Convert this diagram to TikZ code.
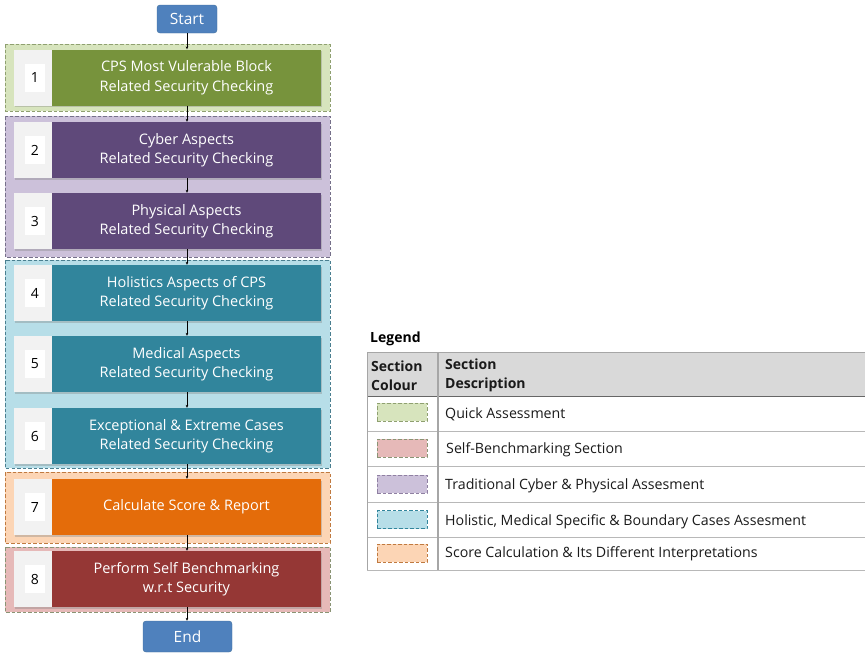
\documentclass[tikz,border=0pt]{standalone}
\usepackage{fontspec}
\setmainfont{Open Sans}
\usetikzlibrary{arrows.meta,shadows}

\definecolor{termfill}{HTML}{4F81BD}
\definecolor{termline}{HTML}{41719C}
\definecolor{greenstep}{HTML}{77933C}
\definecolor{greengroup}{HTML}{D7E4BD}
\definecolor{greenedge}{HTML}{8FA070}
\definecolor{purplestep}{HTML}{5F497A}
\definecolor{purplegroup}{HTML}{CCC1DA}
\definecolor{purpleedge}{HTML}{76708A}
\definecolor{tealstep}{HTML}{31859C}
\definecolor{tealgroup}{HTML}{B7DEE8}
\definecolor{tealedge}{HTML}{4A7F90}
\definecolor{orangestep}{HTML}{E46C0A}
\definecolor{orangegroup}{HTML}{FCD5B5}
\definecolor{orangeedge}{HTML}{C07A40}
\definecolor{redstep}{HTML}{953735}
\definecolor{redgroup}{HTML}{E6B9B8}
\definecolor{rededge}{HTML}{8A9474}
\definecolor{numgray}{HTML}{F2F2F2}
\definecolor{headgray}{HTML}{D9D9D9}
\definecolor{rulegray}{HTML}{A6A6A6}
\definecolor{inkdark}{HTML}{1A1A1A}

\tikzset{
  terminal/.style={draw=termline, fill=termfill, rounded corners=3pt, text=white,
    font=\fontsize{15.5}{18}\selectfont, inner sep=0pt},
  numcell/.style={fill=numgray, minimum width=38pt, minimum height=56pt, inner sep=0pt,
    drop shadow={shadow xshift=0.8pt, shadow yshift=-1.5pt, opacity=0.35}},
  numlabel/.style={fill=white, minimum width=20pt, minimum height=28pt, inner sep=0pt,
    text=black, font=\fontsize{14}{16}\selectfont},
  stepbody/.style={minimum width=269pt, minimum height=56pt, inner sep=0pt, text=white,
    align=center, font=\fontsize{14.5}{19.5}\selectfont,
    drop shadow={shadow xshift=0.8pt, shadow yshift=-1.5pt, opacity=0.35}},
  groupbox/.style={line width=0.6pt, dash pattern=on 3.5pt off 2pt},
  flow/.style={-{Stealth[length=3pt,width=2.6pt]}, line width=0.6pt, black},
  swatch/.style={groupbox, minimum width=50pt, minimum height=18pt, inner sep=0pt},
  legtext/.style={anchor=west, inner sep=0pt, text=inkdark, font=\fontsize{14.2}{16}\selectfont},
  leghead/.style={anchor=west, inner sep=0pt, text=inkdark, align=left,
    font=\fontsize{14}{19}\selectfont\bfseries},
  tablerule/.style={draw=rulegray, line width=0.8pt},
}

\begin{document}
\begin{tikzpicture}[x=1pt,y=-1pt]
\useasboundingbox (0,0) rectangle (865,654);

% section backgrounds
\draw[groupbox, fill=greengroup, draw=greenedge] (5,44) rectangle (330,111);
\draw[groupbox, fill=purplegroup, draw=purpleedge] (5,116) rectangle (330,257);
\draw[groupbox, fill=tealgroup, draw=tealedge] (5,260) rectangle (330,468);
\draw[groupbox, fill=orangegroup, draw=orangeedge] (5,472) rectangle (330,543);
\draw[groupbox, fill=redgroup, draw=rededge] (5,547) rectangle (330,612);

% terminals
\node[terminal, minimum width=60pt, minimum height=28pt] (start) at (187,19) {Start};
\node[terminal, minimum width=89pt, minimum height=31pt] (end) at (187.5,636.5) {End};

% numbered steps
\foreach \k/\y/\c/\t in {
  1/77.5/greenstep/{CPS Most Vulerable Block\\Related Security Checking},
  2/150/purplestep/{Cyber Aspects\\Related Security Checking},
  3/221/purplestep/{Physical Aspects\\Related Security Checking},
  4/293/tealstep/{Holistics Aspects of CPS\\Related Security Checking},
  5/364/tealstep/{Medical Aspects\\Related Security Checking},
  6/436/tealstep/{Exceptional \& Extreme Cases\\Related Security Checking},
  7/507/orangestep/{Calculate Score \& Report},
  8/579/redstep/{Perform Self Benchmarking\\w.r.t Security}}{
  \node[numcell] (n\k) at (33,\y) {};
  \node[numlabel] (l\k) at ([xshift=2pt]n\k.center) {\k};
  \node[stepbody, fill=\c] (b\k) at (186.5,\y) {\t};
}

% flow connectors
\draw[flow] (start) -- (start |- b1.north);
\foreach \a/\b in {1/2,2/3,3/4,4/5,5/6,6/7,7/8}{
  \draw[flow] (start |- b\a.south) -- (start |- b\b.north);
}
\draw[flow] (start |- b8.south) -- (start |- end.north);

% legend
\node[anchor=base west, inner sep=0pt, text=black, font=\fontsize{14}{16}\selectfont\bfseries] (legend) at (370,342) {Legend};

\fill[headgray] (367,352) rectangle (864.6,396);
\draw[tablerule] (367,352) -- (864.6,352);
\draw[draw=gray!80!black, line width=0.9pt] (367,396) -- (864.6,396);
\foreach \yy in {431,466,502,537,570}{
  \draw[tablerule, draw=rulegray!80] (367,\yy) -- (864.6,\yy);
}
\draw[tablerule] (367,352) -- (367,570);
\draw[draw=rulegray, line width=1.6pt] (438,352) -- (438,570);

\node[leghead] (hcol) at (371,375.5) {Section\\Colour};
\node[leghead] (hdesc) at (445,375.5) {Section\\Description};

\node[swatch, fill=greengroup, draw=greenedge] (s1) at (402,412) {};
\node[swatch, fill=redgroup, draw=rededge] (s2) at (402,448) {};
\node[swatch, fill=purplegroup, draw=purplestep!70] (s3) at (402,484) {};
\node[swatch, fill=tealgroup, draw=tealstep] (s4) at (402,519.5) {};
\node[swatch, fill=orangegroup, draw=orangeedge] (s5) at (402,553) {};

\node[legtext] (d1) at (445,414.5) {Quick Assessment};
\node[legtext] (d2) at (446,449.5) {Self-Benchmarking Section};
\node[legtext] (d3) at (445,486) {Traditional Cyber \& Physical Assesment};
\node[legtext] (d4) at (445,521.5) {Holistic, Medical Specific \& Boundary Cases Assesment};
\node[legtext] (d5) at (445,553.5) {Score Calculation \& Its Different Interpretations};
\end{tikzpicture}
\end{document}
